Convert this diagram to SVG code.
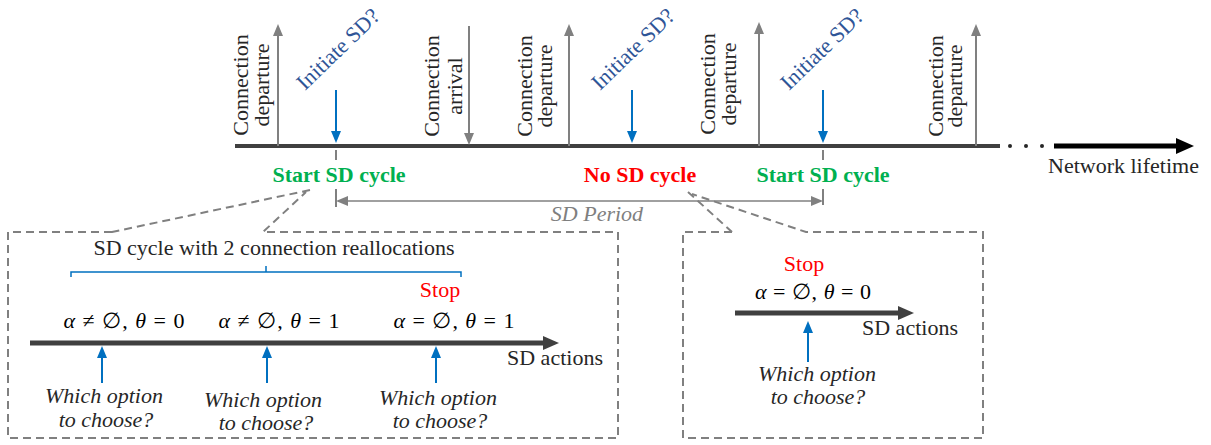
<svg xmlns="http://www.w3.org/2000/svg" width="1211" height="445" viewBox="0 0 1211 445">
<style>
text{font-family:"Liberation Serif","Times New Roman",serif;font-size:22px;fill:#262626}
.rot{text-anchor:middle}
.init{fill:#2F5597}
.green{fill:#00B050;font-weight:bold;text-anchor:middle}
.red{fill:#FF0000;text-anchor:middle}
.redb{fill:#FF0000;font-weight:bold;text-anchor:middle}
.it{font-style:italic;text-anchor:middle}
.per{font-style:italic;fill:#7F7F7F;text-anchor:middle}
.math{text-anchor:middle;fill:#000}
.mi{font-style:italic}
.gray{stroke:#808080;stroke-width:2;fill:none}
.blue{stroke:#0070C0;stroke-width:2;fill:none}
.dash{stroke:#808080;stroke-width:2;fill:none;stroke-dasharray:8 5}
.thick{stroke:#404040;stroke-width:4;fill:none}
</style>
<defs>
<marker id="gh" markerUnits="userSpaceOnUse" markerWidth="12" markerHeight="10" refX="3" refY="5" orient="auto"><path d="M0,0 L12,5 L0,10 z" fill="#808080"/></marker>
<marker id="bh" markerUnits="userSpaceOnUse" markerWidth="12" markerHeight="10" refX="3" refY="5" orient="auto"><path d="M0,0 L12,5 L0,10 z" fill="#0070C0"/></marker>
<marker id="ph" markerUnits="userSpaceOnUse" markerWidth="12" markerHeight="10" refX="10" refY="5" orient="auto-start-reverse"><path d="M0,0 L12,5 L0,10 z" fill="#808080"/></marker>
</defs>

<g id="connectors">
  <line x1="235" y1="146" x2="1000" y2="146" class="thick"/>
  <circle cx="1010" cy="146" r="2" fill="#262626"/>
  <circle cx="1026" cy="146" r="2" fill="#262626"/>
  <circle cx="1042" cy="146" r="2" fill="#262626"/>
  <line x1="1054" y1="146" x2="1178" y2="146" stroke="#000" stroke-width="5"/>
  <polygon points="1176,138 1194,146 1176,154" fill="#000"/>
  <line x1="278" y1="146" x2="278" y2="33" class="gray" marker-end="url(#gh)"/>
  <line x1="469" y1="26" x2="469" y2="136" class="gray" marker-end="url(#gh)"/>
  <line x1="569" y1="146" x2="569" y2="33" class="gray" marker-end="url(#gh)"/>
  <line x1="759" y1="146" x2="759" y2="31" class="gray" marker-end="url(#gh)"/>
  <line x1="976" y1="146" x2="976" y2="33" class="gray" marker-end="url(#gh)"/>
  <line x1="336" y1="90" x2="336" y2="134" class="blue" marker-end="url(#bh)"/>
  <line x1="632" y1="90" x2="632" y2="134" class="blue" marker-end="url(#bh)"/>
  <line x1="823" y1="90" x2="823" y2="134" class="blue" marker-end="url(#bh)"/>
  <line x1="336" y1="150" x2="336" y2="160" class="gray"/>
  <line x1="336" y1="189" x2="336" y2="207" class="gray"/>
  <line x1="823" y1="150" x2="823" y2="160" class="gray"/>
  <line x1="823" y1="189" x2="823" y2="205" class="gray"/>
  <line x1="338" y1="201" x2="821" y2="201" stroke="#808080" stroke-width="1.5" marker-start="url(#ph)" marker-end="url(#ph)"/>
  <path d="M71,277 V272 H461 V277 M266,272 V266" stroke="#0070C0" stroke-width="1.5" fill="none"/>
  <line x1="30" y1="343" x2="545" y2="343" stroke="#404040" stroke-width="5"/>
  <polygon points="543,336 559,343 543,350" fill="#404040"/>
  <line x1="102" y1="383" x2="102" y2="355" class="blue" marker-end="url(#bh)"/>
  <line x1="267" y1="383" x2="267" y2="355" class="blue" marker-end="url(#bh)"/>
  <line x1="436" y1="383" x2="436" y2="355" class="blue" marker-end="url(#bh)"/>
  <line x1="735" y1="313" x2="900" y2="313" stroke="#404040" stroke-width="5"/>
  <polygon points="898,306 914,313 898,320" fill="#404040"/>
  <line x1="808" y1="362" x2="808" y2="330" class="blue" marker-end="url(#bh)"/>
</g>

<g id="timeline-labels">
  <text class="rot" transform="translate(248,85) rotate(-90)"><tspan x="0" y="0">Connection</tspan><tspan x="0" y="21">departure</tspan></text>
  <text class="rot" transform="translate(439,86) rotate(-90)"><tspan x="0" y="0">Connection</tspan><tspan x="0" y="23">arrival</tspan></text>
  <text class="rot" transform="translate(532,86) rotate(-90)"><tspan x="0" y="0">Connection</tspan><tspan x="0" y="20">departure</tspan></text>
  <text class="rot" transform="translate(715,84) rotate(-90)"><tspan x="0" y="0">Connection</tspan><tspan x="0" y="21">departure</tspan></text>
  <text class="rot" transform="translate(943,86) rotate(-90)"><tspan x="0" y="0">Connection</tspan><tspan x="0" y="19">departure</tspan></text>
  <text class="init" transform="translate(305,91) rotate(-44)">Initiate SD?</text>
  <text class="init" transform="translate(600,91) rotate(-44)">Initiate SD?</text>
  <text class="init" transform="translate(789,91) rotate(-44)">Initiate SD?</text>
  <text x="1048" y="173">Network lifetime</text>
  <text class="green" x="339" y="182">Start SD cycle</text>
  <text class="redb" x="640" y="182">No SD cycle</text>
  <text class="green" x="823" y="182">Start SD cycle</text>
  <text class="per" x="597" y="221">SD Period</text>
</g>

<g id="sd-cycle-box">
  <path d="M112,232 H8 V438 H618 V232 H263 L306,192 M310,190 L112,232" class="dash"/>
  <text x="274" y="255" text-anchor="middle">SD cycle with 2 connection reallocations</text>
  <text class="red" x="440" y="297">Stop</text>
  <text class="math" x="124" y="328" textLength="121" lengthAdjust="spacing"><tspan class="mi">α</tspan> ≠ ∅, <tspan class="mi">θ</tspan> = 0</text>
  <text class="math" x="279" y="328" textLength="121" lengthAdjust="spacing"><tspan class="mi">α</tspan> ≠ ∅, <tspan class="mi">θ</tspan> = 1</text>
  <text class="math" x="454" y="328" textLength="121" lengthAdjust="spacing"><tspan class="mi">α</tspan> = ∅, <tspan class="mi">θ</tspan> = 1</text>
  <text x="507" y="365">SD actions</text>
  <text class="it" x="104" y="403">Which option</text>
  <text class="it" x="106" y="427">to choose?</text>
  <text class="it" x="263" y="407">Which option</text>
  <text class="it" x="266" y="430">to choose?</text>
  <text class="it" x="438" y="405">Which option</text>
  <text class="it" x="440" y="428">to choose?</text>
</g>

<g id="no-sd-box">
  <path d="M732,232 H683 V438 H983 V232 H806 L692,194 M688,192 L732,232" class="dash"/>
  <text class="red" x="804" y="271">Stop</text>
  <text class="math" x="813" y="299" textLength="116" lengthAdjust="spacing"><tspan class="mi">α</tspan> = ∅, <tspan class="mi">θ</tspan> = 0</text>
  <text x="862" y="335">SD actions</text>
  <text class="it" x="817" y="381">Which option</text>
  <text class="it" x="818" y="404">to choose?</text>
</g>
</svg>
